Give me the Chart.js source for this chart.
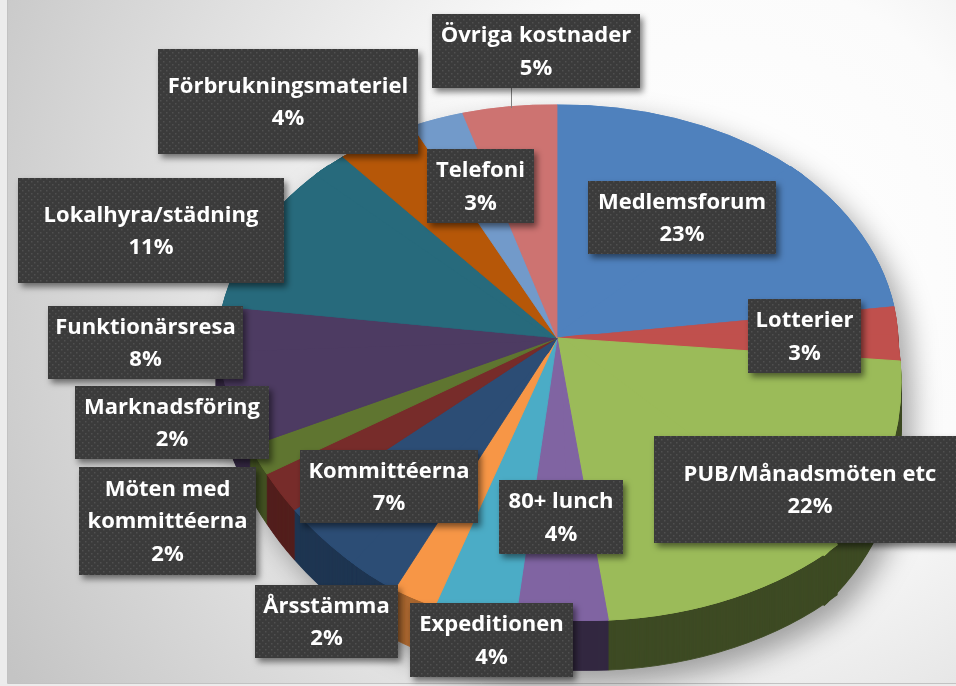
<!DOCTYPE html>
<html>
<head>
<meta charset="utf-8">
<title>Kostnader</title>
<script src="https://cdn.jsdelivr.net/npm/chart.js@4.4.1/dist/chart.umd.min.js"></script>
<style>
  html, body { margin: 0; padding: 0; background: #ffffff; }
  #wrap { width: 956px; height: 686px; }
</style>
</head>
<body>
<div id="wrap"><canvas id="kostnader" width="956" height="686"></canvas></div>
<script>
// kategorier medurs från kl 12
const categories = [
    "Medlemsforum", "Lotterier", "PUB/Månadsmöten etc", "80+ lunch", "Expeditionen",
    "Årsstämma", "Kommittéerna", "Möten med kommittéerna", "Marknadsföring",
    "Funktionärsresa", "Lokalhyra/städning", "Förbrukningsmateriel", "Telefoni", "Övriga kostnader"
];
// andel i procent
const values = [22.7, 3.4, 22.2, 4.4, 4.4, 2.4, 6.6, 2.2, 1.6, 8.0, 11.4, 4.0, 2.6, 4.6];

const sliceColors = [
    "#4F81BD", "#C0504D", "#9BBB59", "#8064A2", "#4BACC6", "#F79646",
    "#2C4D75", "#772C2A", "#5F7530", "#4D3B62", "#276A7C", "#B65708",
    "#729ACA", "#CD7371"
];

// etiketternas rutor: x, y, bredd, höjd (samma ordning som categories)
const labelBoxes = [
    [588, 181, 188, 73], [748, 299, 113, 74], [654, 436, 312, 107], [499, 480, 124, 74],
    [410, 603, 163, 74], [255, 585, 143, 73], [300, 450, 178, 73], [79, 467, 177, 108],
    [75, 386, 194, 73], [48, 306, 195, 73], [18, 178, 266, 105], [158, 49, 260, 105],
    [427, 149, 107, 74], [432, 14, 208, 74]
];

// 3D-projektion: tårtans mitt och kantpunkter var 45:e grad (medurs från kl 12)
const pieApex = { x: 557, y: 338 };
const pieRim = [[557, 105], [797, 171], [898, 343], [830, 550], [562, 620], [345, 557], [217, 345], [322, 170]];
const pieDepth = 50;

function unitDir(deg) {
    const r = deg * Math.PI / 180;
    return [Math.sin(r), -Math.cos(r)];
}

function wedgeMatrix(w) {
    const e1 = unitDir(w * 45), e2 = unitDir((w + 1) * 45);
    const p1 = pieRim[w], p2 = pieRim[(w + 1) % 8];
    const d1 = [p1[0] - pieApex.x, p1[1] - pieApex.y];
    const d2 = [p2[0] - pieApex.x, p2[1] - pieApex.y];
    const det = e1[0] * e2[1] - e2[0] * e1[1];
    const i11 = e2[1] / det, i12 = -e2[0] / det, i21 = -e1[1] / det, i22 = e1[0] / det;
    return [
        d1[0] * i11 + d2[0] * i21, d1[0] * i12 + d2[0] * i22,
        d1[1] * i11 + d2[1] * i21, d1[1] * i12 + d2[1] * i22
    ];
}

function shade(hex, f) {
    const n = parseInt(hex.slice(1), 16);
    const r = Math.round(((n >> 16) & 255) * f);
    const g = Math.round(((n >> 8) & 255) * f);
    const b = Math.round((n & 255) * f);
    return "rgb(" + r + "," + g + "," + b + ")";
}

function sideFactor(deg) {
    const t = Math.min(1, Math.max(0, (deg - 185) / 25));
    return 0.4 + 0.3 * t;
}

function arcDeg(arc) {
    return [(arc.startAngle + Math.PI / 2) * 180 / Math.PI, (arc.endAngle + Math.PI / 2) * 180 / Math.PI];
}

function drawWedge(g, arcs, w, k, side) {
    const c = arcs[0];
    const cx = c.x, cy = c.y, R = c.outerRadius;
    const m = wedgeMatrix(w);
    const mid = unitDir(w * 45 + 22.5);
    g.save();
    g.setTransform(m[0] / R, m[2] / R, m[1] / R, m[3] / R,
        pieApex.x - (m[0] * cx + m[1] * cy) / R,
        pieApex.y + k - (m[2] * cx + m[3] * cy) / R);
    g.beginPath();
    g.moveTo(cx - mid[0] * R * 0.03, cy - mid[1] * R * 0.03);
    for (let s = 0; s <= 6; s++) {
        const u = unitDir(w * 45 - 1.5 + s * 48 / 6);
        g.lineTo(cx + u[0] * R * 1.25, cy + u[1] * R * 1.25);
    }
    g.closePath();
    g.clip();
    arcs.forEach(function (arc, i) {
        const a = arcDeg(arc);
        if (a[1] < w * 45 - 3 || a[0] > (w + 1) * 45 + 3) return;
        if (side) {
            const saved = arc.options;
            const col = shade(sliceColors[i], sideFactor((a[0] + a[1]) / 2));
            arc.options = Object.assign({}, saved, { backgroundColor: col, borderColor: col });
            arc.draw(g);
            arc.options = saved;
        } else {
            arc.draw(g);
        }
    });
    g.restore();
}

const bakgrund = {
    id: "bakgrund",
    beforeDraw: function (chart) {
        const ctx = chart.ctx;
        ctx.save();
        ctx.fillStyle = "#ececec";
        ctx.fillRect(0, 0, chart.width, chart.height);
        const grd = ctx.createRadialGradient(720, 260, 0, 720, 260, 820);
        grd.addColorStop(0, "#ffffff");
        grd.addColorStop(0.35, "#fbfbfb");
        grd.addColorStop(1, "#c4c4c4");
        ctx.fillStyle = grd;
        ctx.fillRect(7, 0, chart.width - 7, 683);
        ctx.strokeStyle = "#c2c2c2";
        ctx.lineWidth = 1;
        ctx.beginPath();
        ctx.moveTo(7.5, 0);
        ctx.lineTo(7.5, 683.5);
        ctx.lineTo(chart.width, 683.5);
        ctx.stroke();
        ctx.restore();
    }
};

const tarta3d = {
    id: "tarta3d",
    beforeDatasetsDraw: function (chart) {
        const arcs = chart.getDatasetMeta(0).data;
        const off = document.createElement("canvas");
        off.width = chart.width;
        off.height = chart.height;
        const g = off.getContext("2d");
        for (let k = pieDepth; k >= 1; k--) {
            for (let w = 1; w <= 6; w++) drawWedge(g, arcs, w, k, true);
        }
        // ovansidan två gånger så att skarvarna täcks
        for (let pass = 0; pass < 2; pass++) {
            for (let w = 0; w < 8; w++) drawWedge(g, arcs, w, 0, false);
        }

        const ctx = chart.ctx;
        ctx.save();
        ctx.shadowColor = "rgba(0,0,0,0.35)";
        ctx.shadowBlur = 28;
        ctx.shadowOffsetX = 10;
        ctx.shadowOffsetY = 12;
        ctx.drawImage(off, 0, 0);
        ctx.restore();
        return false;
    }
};

function makePattern(ctx) {
    const p = document.createElement("canvas");
    p.width = 6;
    p.height = 6;
    const pc = p.getContext("2d");
    pc.fillStyle = "#3b3b3b";
    pc.fillRect(0, 0, 6, 6);
    pc.fillStyle = "#505050";
    pc.fillRect(1, 1, 1.5, 1.5);
    pc.fillRect(4, 4, 1.5, 1.5);
    return ctx.createPattern(p, "repeat");
}

function wrapText(ctx, text, maxW) {
    const words = text.split(" ");
    const lines = [];
    let cur = "";
    words.forEach(function (wd) {
        const test = cur ? cur + " " + wd : wd;
        if (cur && ctx.measureText(test).width > maxW) {
            lines.push(cur);
            cur = wd;
        } else {
            cur = test;
        }
    });
    lines.push(cur);
    return lines;
}

const etiketter = {
    id: "etiketter",
    afterDraw: function (chart) {
        const ctx = chart.ctx;
        const total = values.reduce(function (s, v) { return s + v; }, 0);
        const pattern = makePattern(ctx);

        // hänvisningslinje för Övriga kostnader
        ctx.save();
        ctx.strokeStyle = "#7f7f7f";
        ctx.lineWidth = 1;
        ctx.beginPath();
        ctx.moveTo(511.5, 88);
        ctx.lineTo(511.5, 108);
        ctx.stroke();
        ctx.restore();

        ctx.font = "bold 22px 'Open Sans'";
        labelBoxes.forEach(function (b, i) {
            ctx.save();
            ctx.shadowColor = "rgba(0,0,0,0.5)";
            ctx.shadowBlur = 6;
            ctx.shadowOffsetX = 3;
            ctx.shadowOffsetY = 4;
            ctx.fillStyle = pattern;
            ctx.fillRect(b[0], b[1], b[2], b[3]);
            ctx.restore();

            const lines = wrapText(ctx, categories[i], b[2] - 2);
            lines.push(Math.round(values[i] / total * 100) + "%");
            const lh = 32.5;
            const cx = b[0] + b[2] / 2;
            const cy = b[1] + b[3] / 2 + 1;
            ctx.fillStyle = "#ffffff";
            ctx.textAlign = "center";
            ctx.textBaseline = "middle";
            lines.forEach(function (t, j) {
                ctx.fillText(t, cx, cy + (j - (lines.length - 1) / 2) * lh);
            });
        });
    }
};

new Chart(document.getElementById("kostnader"), {
    type: "pie",
    data: {
        labels: categories,
        datasets: [{
            data: values,
            backgroundColor: sliceColors,
            borderColor: sliceColors,
            borderWidth: 1
        }]
    },
    options: {
        responsive: false,
        animation: false,
        devicePixelRatio: 1,
        events: [],
        plugins: {
            legend: { display: false },
            tooltip: { enabled: false }
        }
    },
    plugins: [bakgrund, tarta3d, etiketter]
});
</script>
</body>
</html>
